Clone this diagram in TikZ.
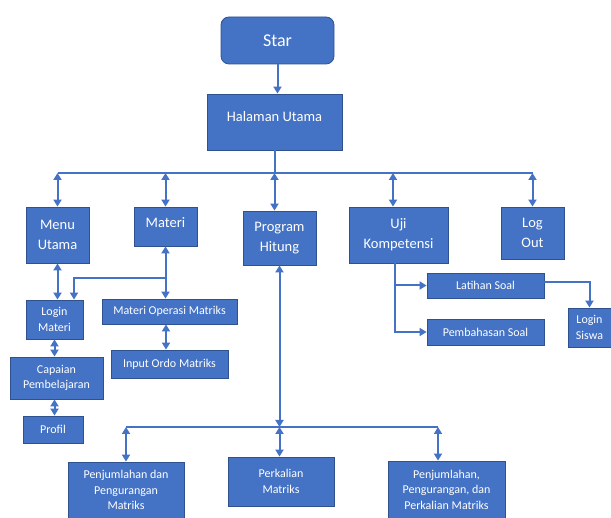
\documentclass[tikz,border=0pt]{standalone}
\usepackage{fontspec}
\setmainfont{Carlito}
\usetikzlibrary{arrows.meta,positioning}
\definecolor{boxblue}{HTML}{4472C4}
\definecolor{edgeblue}{HTML}{2F528F}
\tikzset{
	block/.style      = {draw=edgeblue, line width=0.8pt, fill=boxblue, text=white,
		align=center, inner sep=2pt},
	startblock/.style = {block, rounded corners=8pt, font=\fontsize{18}{22}\selectfont},
	mainblock/.style  = {block, font=\fontsize{14.5}{20}\selectfont}, % First row
	subblock/.style   = {block, font=\fontsize{12}{15.5}\selectfont}, % Sub menus
	link/.style       = {draw=boxblue, line width=2pt}
}
\newcommand{\matriks}{Matriks}

\begin{document}
\begin{tikzpicture}[x=1pt, y=-1pt, >={Triangle[length=7pt,width=8pt]}]
\useasboundingbox (0,0) rectangle (611,518);
\draw
% Drawing the top of the chart
node at (277.5,40.5)[startblock, minimum width=113pt, minimum height=47pt] (star) {Star}
node at (274.5,122)[mainblock, minimum width=135pt, minimum height=56pt, text depth=12pt] (home) {Halaman Utama}
% Drawing the first row
node at (57.5,235)[mainblock, minimum width=63pt, minimum height=56pt] (menu) {Menu\\Utama}
node at (165.5,226.5)[mainblock, minimum width=63pt, minimum height=39pt, text depth=8pt] (materi) {Materi}
node at (279.5,238)[mainblock, minimum width=73pt, minimum height=54pt] (program) {Program\\Hitung}
node at (398.5,235)[mainblock, minimum width=99pt, minimum height=56pt] (uji) {Uji\\Kompetensi}
node at (532.5,233)[mainblock, minimum width=63pt, minimum height=52pt] (logout) {Log\\Out}
% Drawing the sub menus
node at (54.5,319.5)[subblock, minimum width=57pt, minimum height=39pt] (loginmateri) {Login\\Materi}
node at (56.5,378)[subblock, minimum width=93pt, minimum height=42pt] (capaian) {Capaian\\Pembelajaran}
node at (53,429.5)[subblock, minimum width=60pt, minimum height=27pt] (profil) {Profil}
node at (169.5,311.5)[subblock, minimum width=135pt, minimum height=25pt] (operasi) {Materi Operasi \matriks}
node at (169.5,364)[subblock, minimum width=117pt, minimum height=28pt] (inputordo) {Input Ordo \matriks}
node at (485.5,285.5)[subblock, minimum width=117pt, minimum height=25pt] (latihan) {Latihan Soal}
node at (485.5,332)[subblock, minimum width=117pt, minimum height=26pt] (pembahasan) {Pembahasan Soal}
node at (589.5,327.5)[subblock, minimum width=43pt, minimum height=39pt] (loginsiswa) {Login\\Siswa}
% Drawing the bottom row
node at (126,490)[subblock, minimum width=116pt, minimum height=56pt] (tambah) {Penjumlahan dan\\Pengurangan\\\matriks}
node at (281,481.5)[subblock, minimum width=106pt, minimum height=49pt] (kali) {Perkalian\\\matriks}
node at (446.5,489.5)[subblock, minimum width=117pt, minimum height=57pt] (semua) {Penjumlahan,\\Pengurangan, dan\\Perkalian \matriks};

\coordinate (topbus) at (0,173);
\coordinate (botbus) at (0,427);
\coordinate (matsplit) at (165.5,278);

\draw[link,->](star.south) -- (star.south |- home.north);
\draw[link](home.south) -- (home.south |- topbus);
\draw[link](menu.north |- topbus) -- (logout.north |- topbus);
\draw[link,<->](menu.north |- topbus) -- (menu.north);
\draw[link,<->](materi.north |- topbus) -- (materi.north);
\draw[link,<->](home.south |- topbus) -- (home.south |- program.north);
\draw[link,<->]([xshift=-5.5pt]uji.north |- topbus) -- ([xshift=-5.5pt]uji.north);
\draw[link,<->](logout.north |- topbus) -- (logout.north);

\draw[link,<->](menu.south) -- (menu.south |- loginmateri.north);
\draw[link,<->](loginmateri.south) -- (loginmateri.south |- capaian.north);
\draw[link,<->](loginmateri.south |- capaian.south) -- (loginmateri.south |- profil.north);
\draw[link,<->](materi.south) -- (materi.south |- operasi.north);
\draw[link,->](matsplit) -| ([xshift=19.5pt]loginmateri.north);
\draw[link,<->]([xshift=-3.5pt]operasi.south) -- ([xshift=-3.5pt]operasi.south |- inputordo.north);

\draw[link,->]([xshift=-3.5pt]uji.south) |- (pembahasan.west);
\draw[link,->]([xshift=-3.5pt]uji.south |- latihan.west) -- (latihan.west);
\draw[link,->]([yshift=3.5pt]latihan.east) -| (loginsiswa.north);

\draw[link,<->](program.south) -- (program.south |- botbus);
\draw[link](tambah.north |- botbus) -- ([xshift=-8.5pt]semua.north |- botbus);
\draw[link,<->](tambah.north |- botbus) -- (tambah.north);
\draw[link,<->](program.south |- botbus) -- (program.south |- kali.north);
\draw[link,<->]([xshift=-8.5pt]semua.north |- botbus) -- ([xshift=-8.5pt]semua.north);
\end{tikzpicture}
\end{document}
